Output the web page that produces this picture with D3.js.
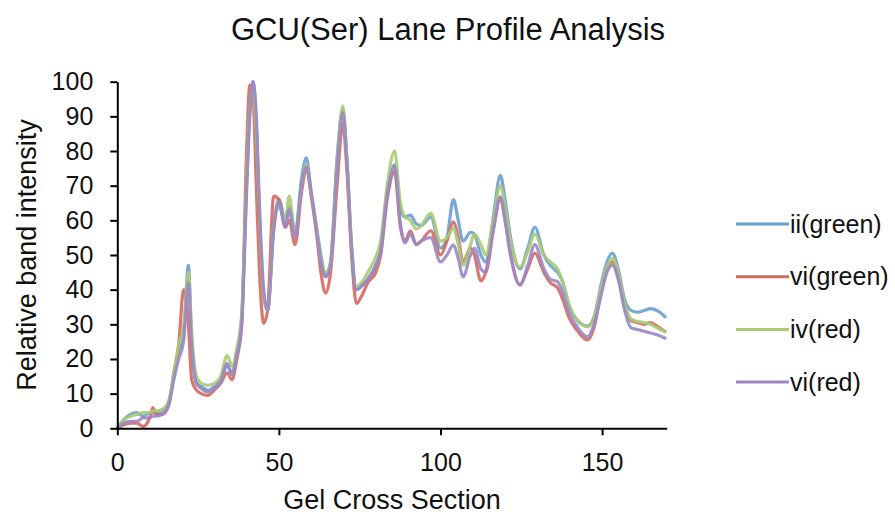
<!DOCTYPE html>
<html><head><meta charset="utf-8">
<script src="https://cdn.jsdelivr.net/npm/d3@7"></script>
<style>body{margin:0;background:#fff}svg{display:block}</style>
</head><body>
<svg id="c" width="895" height="515"></svg>
<script>
const title = "GCU(Ser) Lane Profile Analysis";
const xLabel = "Gel Cross Section";
const yLabel = "Relative band intensity";
const xTicks = [0, 50, 100, 150];
const yTicks = [0,10,20,30,40,50,60,70,80,90,100];
const seriesNames = ["ii(green)", "vi(green)", "iv(red)", "vi(red)"];
const seriesColors = ["#6a9fd3", "#d4695f", "#a9cb74", "#9b88c6"];

const xs = [0,2,4,6,8,10,11,12,14,16,17.5,19,20.5,22,23,24.5,26,28,30,32,34,35.5,37,38.5,40,41,42,43,44,45.3,46.5,48.4,50,52,53.2,55,57,58.5,60,61.8,63,64.5,66,68,69.8,71,72.5,74,75.5,77.5,80,81.5,83.5,85.8,87.6,89,90.7,92.5,94,97,100,102,104,105.5,107,109.3,110.5,112.5,114,116.5,118.5,120,121.7,124.6,127,129.2,132,134,136.2,137.5,140,142.5,145.5,147.5,149.6,151.5,153.2,155,157,159,161,163,165,167,169.5];

const iiGreen = [0,2.5,4,4.5,3.5,4.5,4.5,4.5,5,8,15,22,27,47,25,13,12,11,12,14,18,16,22,32,70,92,100,88,60,38,34,58,66,60,64,56,72,78,68,57,50,44,48,78,92,78,52,40,41,43,47,52,68,76,63,61,61.5,59,58.5,61,52,55,66,60,54,56.5,56,50,48,62,73,66,55,46,52,58,50,47,45,43,35,31,29.5,32,41,48,50.5,46,37,34,33.5,34,34.5,34,32.2];
const viGreen = [0,1,1.5,1.5,0.5,3,6,4,4,7,16,24,40,30,14,11,10,9.5,11,13,16,14,20,30,80,99,96,70,45,30.3,34,67,66,58,60,53,68,75,67,55,45,39,45,70,88,75,50,36,38,42,45,50,66,74,58,54,57,53,54,57,50,54,59.5,55,48,52,50,42.5,45,58,66.5,60,50,41.5,46,50.5,45,42,40.5,38,31.5,28,25.5,29,39,46,48,44,35,31,30.5,30,30.5,29.5,27.9];
const ivRed = [0,2.5,3.5,4,4.5,4.5,5,5,5.5,8,16,24,29,45,28,15,13,12.4,13,15,21,18,23,33,72,92,98,86,62,38,34,58,64,60,67,56,70,76,68,57,49,45,48,77,93,78,53,41,42,45,49.5,54,70,80,65,61,60,57.5,58.5,62,54,55,57.7,53,47,53,56,53,50,61,70,64,54,46.5,51,56,50,48,46,43,35,31,29.3,32,40,46.5,49,45,36,31.5,30.8,30.5,30,29,27.9];
const viRed = [0,1.5,2,2,3,3,3.5,3.5,4,7,14,20,25,42,24,13,11.5,10.5,11.5,13.5,18.7,15.5,21,30,68,90,100,90,64,40,34,57,65,58,63,55,70,75.5,68,56,48,43.7,47,75,91,78,52,40,41,43,47,51,67,75.5,59,53.5,56,53,54,55,48,50,52.9,49,43.7,50,51.9,46,45,58,66.8,60,50,41.3,47,53,46,43,42.3,40,33,29,26.4,30,38,45,47.1,43,34,29,28.5,28,27.5,27,26];

const seriesValues = [iiGreen, viGreen, ivRed, viRed];

const svg = d3.select("#c");
const font = "'Liberation Sans', Arial, Helvetica, sans-serif";
const L = 117.3, R = 666.7, T = 81.7, B = 428.3;
const x = d3.scaleLinear().domain([0,170]).range([L,R]);
const y = d3.scaleLinear().domain([0,100]).range([B,T]);

svg.append("text").attr("x", 448).attr("y", 40).attr("text-anchor","middle")
  .attr("font-family", font).attr("font-size", 31).attr("fill","#111").text(title);

const line = d3.line().x((d,i)=>x(xs[i])).y(d=>y(d)).curve(d3.curveMonotoneX);
const g = svg.append("g");
seriesValues.forEach((vals,k)=>{
  g.append("path").datum(vals).attr("d", line).attr("fill","none")
    .attr("stroke", seriesColors[k]).attr("stroke-width", 3.2).attr("stroke-opacity",0.9)
    .attr("stroke-linejoin","round").attr("stroke-linecap","round");
});

const xa = svg.append("g").attr("transform", `translate(0,${B})`)
  .call(d3.axisBottom(x).tickValues(xTicks).tickSize(7).tickSizeOuter(0).tickPadding(18));
const ya = svg.append("g").attr("transform", `translate(${L},0)`)
  .call(d3.axisLeft(y).tickValues(yTicks).tickSize(7).tickSizeOuter(0).tickPadding(17));
[xa, ya].forEach(a=>{
  a.select(".domain").attr("stroke","#000").attr("stroke-width",2);
  a.selectAll(".tick line").attr("stroke","#000").attr("stroke-width",2);
  a.selectAll(".tick text").attr("font-family", font).attr("font-size", 25).attr("fill","#111");
});

svg.append("text").attr("x", (L+R)/2).attr("y", 509).attr("text-anchor","middle")
  .attr("font-family", font).attr("font-size", 27).attr("fill","#111").text(xLabel);
svg.append("text").attr("transform", `translate(36,${(T+B)/2}) rotate(-90)`).attr("text-anchor","middle")
  .attr("font-family", font).attr("font-size", 27).attr("fill","#111").text(yLabel);

const lg = svg.append("g");
seriesNames.forEach((n,k)=>{
  const yy = 224 + k*52.7;
  lg.append("line").attr("x1",736).attr("x2",789).attr("y1",yy).attr("y2",yy)
    .attr("stroke", seriesColors[k]).attr("stroke-width",3);
  lg.append("text").attr("x",790).attr("y",yy).attr("dy","0.35em")
    .attr("font-family", font).attr("font-size", 25).attr("fill","#111").text(n);
});
</script>
</body></html>
